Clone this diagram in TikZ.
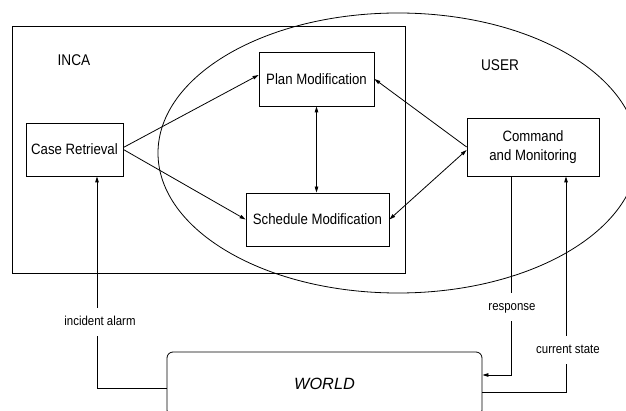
\documentclass[tikz,border=0pt]{standalone}
\usepackage{fontspec}
\setmainfont{Liberation Sans}[FakeStretch=0.88]
\newfontfamily\worldfont{Liberation Sans}
\usetikzlibrary{arrows.meta}
\begin{document}
\begin{tikzpicture}[x=1pt,y=-1pt,
  line width=0.8pt,
  box/.style={draw, line width=0.8pt, inner sep=0pt, align=center, font=\fontsize{15}{19}\selectfont},
  arr/.style={-{Triangle[length=6pt,width=3.5pt]}},
  darr/.style={{Triangle[length=6pt,width=3.5pt]}-{Triangle[length=6pt,width=3.5pt]}},
  lbl/.style={fill=white, inner xsep=1pt, inner ysep=7.5pt, text height=10pt, text depth=3pt, font=\fontsize{13}{15}\selectfont},
  big/.style={font=\fontsize{15.5}{18}\selectfont}]
\useasboundingbox (0,0) rectangle (626,411);
\clip (0,0) rectangle (626,411);
% INCA frame and USER ellipse
\node[draw, minimum width=393pt, minimum height=247pt, anchor=north west, inner sep=0pt] (inca) at (12,26) {};
\draw (398,153) ellipse [x radius=240pt, y radius=140pt];
\node[big] (incalbl) at (74,60) {INCA};
\node[big] (userlbl) at (500,65.5) {USER};
% boxes
\node[box, minimum width=97pt, minimum height=53pt] (cr) at (74.5,149.5) {Case Retrieval};
\node[box, minimum width=115pt, minimum height=54pt] (pl) at (316.5,79) {Plan Modification};
\node[box, minimum width=143pt, minimum height=53pt] (sm) at (317.5,219.5) {Schedule Modification};
\node[box, minimum width=132pt, minimum height=58pt] (cm) at (533,147) {Command\\and Monitoring};
\node[box, rounded corners=6pt, minimum width=315pt, minimum height=64pt,
      font=\worldfont\fontsize{16.3}{18}\selectfont\itshape] (world) at (324.5,384) {WORLD};
% connectors
\draw[arr] ([yshift=2pt]cr.east) -- ([yshift=4pt]pl.west);
\draw[arr] (cr.east) -- (sm.west);
\draw[darr] (pl.south) -- (pl.south |- sm.north);
\draw[arr] (cm.west) -- (pl.east);
\draw[darr] (sm.east) -- ([yshift=-3pt]cm.west);
\draw[arr] ([yshift=-4pt]world.west) -| ([xshift=22.5pt]cr.south);
\draw[arr] ([xshift=-22pt]cm.south) |- ([yshift=9pt]world.east);
\draw[arr] ([yshift=-8pt]world.east) -| ([xshift=33pt]cm.south);
% labels on connectors
\node[lbl] (ial) at (100,322) {incident alarm};
\node[lbl] (rl) at (512,307) {response};
\node[lbl] (csl) at (568,350) {current state};
\end{tikzpicture}
\end{document}
